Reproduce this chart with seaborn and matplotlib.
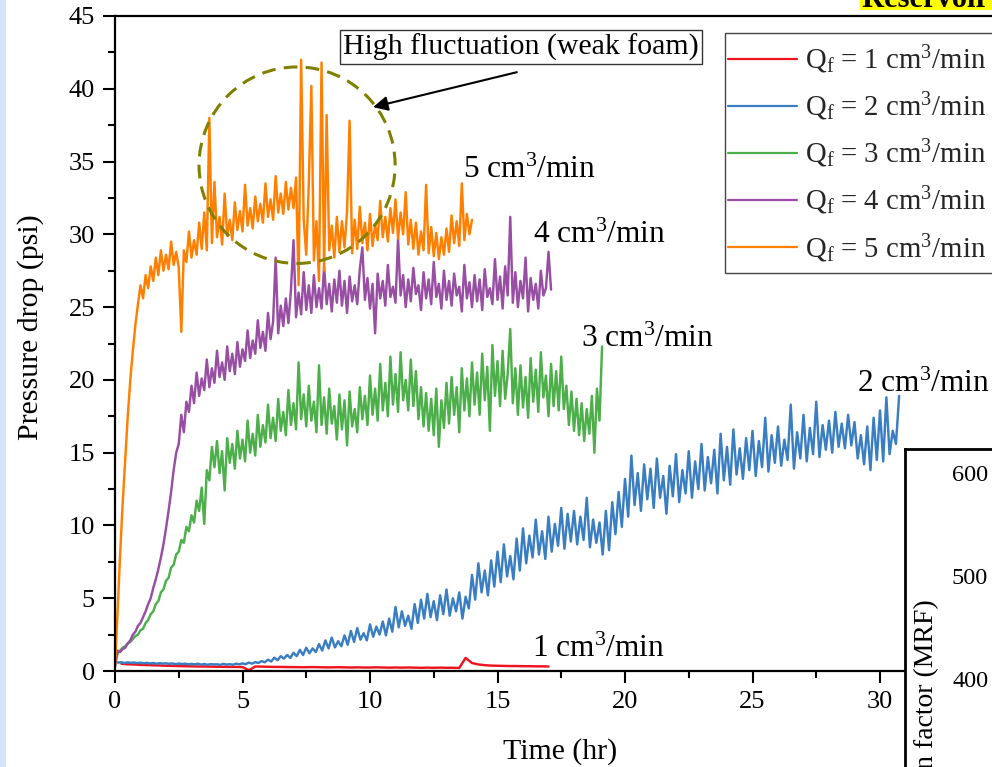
import numpy as np
import pandas as pd
import matplotlib
matplotlib.use("Agg")
import matplotlib.pyplot as plt
from matplotlib.patches import Ellipse, Rectangle
from matplotlib.lines import Line2D
from matplotlib.ticker import MultipleLocator
import seaborn as sns

# ---------------- data ----------------
labels = [r"Q$_\mathrm{f}$ = 1 cm$^3$/min", r"Q$_\mathrm{f}$ = 2 cm$^3$/min",
          r"Q$_\mathrm{f}$ = 3 cm$^3$/min", r"Q$_\mathrm{f}$ = 4 cm$^3$/min",
          r"Q$_\mathrm{f}$ = 5 cm$^3$/min"]
colors = ["#F0141E", "#3A7EC2", "#4CAF4A", "#984EA3", "#FF7F00"]
curve_labels = [r"1 cm$^3$/min", r"2 cm$^3$/min", r"3 cm$^3$/min",
                r"4 cm$^3$/min", r"5 cm$^3$/min"]

# Q = 1 cm3/min (t = 0.25 ... 17.0 hr)
red_t_range = (0.25, 17.0)
red_pd = [0.50, 0.46, 0.45, 0.42, 0.41, 0.39, 0.38, 0.36, 0.35, 0.34,
          0.33, 0.32, 0.31, 0.31, 0.30, 0.29, 0.29, 0.28, 0.28, 0.27,
          0.05,
          0.31, 0.30, 0.29, 0.28, 0.28, 0.27, 0.27, 0.26, 0.26, 0.27,
          0.26, 0.25, 0.25, 0.26, 0.25, 0.24, 0.25, 0.24, 0.24, 0.25,
          0.24, 0.23, 0.24, 0.23, 0.24, 0.23, 0.22, 0.23, 0.22, 0.23,
          0.22, 0.22, 0.21,
          0.90,
          0.55, 0.45, 0.40, 0.37, 0.36, 0.35, 0.34, 0.34, 0.33, 0.33,
          0.32, 0.32, 0.31]

# Q = 2 cm3/min (t = 0 ... 30.75 hr)
blue_t_range = (0.0, 30.75)
blue_pd = [
    0.62, 0.58, 0.60, 0.55, 0.59, 0.56, 0.58, 0.54,
    0.57, 0.53, 0.56, 0.52, 0.55, 0.50, 0.54, 0.51,
    0.53, 0.49, 0.52, 0.47, 0.51, 0.48, 0.50, 0.46,
    0.49, 0.45, 0.50, 0.44, 0.48, 0.43, 0.47, 0.45,
    0.46, 0.42, 0.49, 0.44, 0.47, 0.43, 0.50, 0.46,
    0.52, 0.47, 0.58, 0.50, 0.61, 0.55, 0.68, 0.60,
    0.78, 0.65, 0.92, 0.74, 1.02, 0.85, 1.10, 0.90,
    1.25, 1.02, 1.45, 1.10, 1.60, 1.22, 1.55, 1.30,
    1.85, 1.40, 2.10, 1.55, 2.30, 1.62, 2.05, 1.70,
    2.45, 1.80, 2.75, 2.00, 2.95, 2.15, 2.60, 2.10,
    3.20, 2.35, 3.05, 2.50, 3.40, 2.45, 3.60, 2.70,
    4.40, 3.00, 4.10, 3.10, 3.80, 2.90, 4.60, 3.30,
    4.90, 3.60, 5.30, 3.70, 4.80, 3.50, 5.20, 3.90,
    5.60, 3.80, 5.00, 4.10, 5.40, 3.60, 5.10, 4.30,
    6.60, 4.90, 7.40, 5.40, 6.90, 5.20, 7.60, 5.80,
    8.20, 6.10, 8.70, 6.50, 7.90, 6.30, 9.10, 6.90,
    9.80, 7.40, 9.30, 7.80, 10.40, 8.00, 9.60, 7.70,
    10.60, 8.20, 10.10, 8.60, 11.20, 8.40, 10.80, 8.90,
    11.00, 8.70, 10.60, 9.00, 11.90, 8.50, 10.40, 8.80,
    10.20, 8.00, 11.00, 8.30, 11.60, 9.40, 12.30, 9.90,
    13.20, 10.60, 14.80, 11.40, 13.60, 11.00, 14.20, 11.80,
    13.90, 11.20, 14.60, 11.90, 13.40, 10.80, 14.10, 12.00,
    14.90, 11.60, 13.80, 12.20, 15.10, 11.90, 14.40, 12.50,
    15.60, 12.40, 14.70, 12.90, 15.20, 12.20, 16.30, 13.10,
    15.40, 12.80, 16.60, 13.50, 15.30, 13.20, 16.00, 13.80,
    16.50, 13.40, 15.80, 14.00, 17.40, 13.70, 16.20, 14.30,
    16.80, 14.10, 15.90, 14.50, 18.30, 13.90, 16.40, 14.60,
    17.60, 14.40, 16.70, 14.90, 18.50, 14.70, 16.90, 15.20,
    17.20, 15.00, 17.80, 15.40, 17.00, 15.30, 17.60, 15.50,
    17.10, 14.60, 16.20, 14.20, 16.80, 13.80, 17.40, 14.50,
    17.90, 14.40, 18.80, 14.90, 16.50, 15.60, 18.90]

# Q = 3 cm3/min (t = 0 ... 19.1 hr)
green_t_range = (0.0, 19.1)
green_pd = [
    0.5, 1.2, 1.4, 1.6, 1.7, 1.9, 2.0, 2.2, 2.4, 2.5,
    2.8, 2.9, 3.3, 3.5, 3.9, 4.1, 4.6, 4.8, 5.4, 5.6,
    6.2, 6.4, 7.1, 7.3, 8.0, 8.2, 9.0, 8.8, 9.9, 9.6,
    10.7, 10.2, 11.7, 11.0, 12.6, 10.1, 13.8, 13.1, 15.4, 14.0,
    15.8, 13.6, 15.1, 12.4, 16.0, 14.3, 15.6, 13.9, 16.5, 14.6,
    15.9, 14.4, 17.2, 15.0, 16.3, 14.8, 17.6, 15.4, 16.9, 15.7,
    18.3, 16.0, 17.4, 15.8, 18.7, 16.5, 17.8, 16.2, 19.3, 16.9,
    18.4, 16.6, 21.2, 17.3, 19.0, 16.8, 19.6, 17.2, 18.5, 16.4,
    21.0, 16.9, 18.8, 16.3, 19.4, 17.0, 18.2, 15.9, 19.0, 16.6,
    18.6, 15.5, 19.2, 16.8, 18.0, 16.4, 19.5, 17.3, 18.9, 16.9,
    20.3, 17.6, 19.4, 17.2, 21.1, 17.9, 19.8, 17.5, 21.6, 18.3,
    20.4, 17.8, 21.9, 18.6, 20.0, 17.9, 21.4, 18.2, 20.6, 17.3,
    19.5, 16.8, 19.1, 16.5, 18.7, 16.2, 19.4, 15.4, 18.6, 16.7,
    19.8, 17.0, 20.2, 17.6, 19.5, 16.4, 20.8, 17.9, 20.1, 17.5,
    21.2, 18.3, 20.5, 17.6, 21.8, 18.6, 20.9, 16.5, 22.4, 18.9,
    21.3, 18.2, 22.0, 18.7, 20.4, 23.5, 18.4, 20.8, 17.6, 21.0,
    18.1, 20.2, 17.4, 21.5, 18.5, 20.7, 17.8, 21.9, 18.8, 20.3,
    17.5, 21.1, 18.2, 20.6, 17.9, 21.6, 18.0, 19.6, 16.9, 19.2,
    16.5, 18.7, 16.2, 18.4, 15.8, 18.0, 16.3, 18.9, 15.0, 19.4,
    17.2, 22.3]

# Q = 4 cm3/min (t = 0 ... 17.1 hr)
purple_t_range = (0.0, 17.1)
purple_pd = [
    0.3, 1.4, 1.3, 1.5, 1.6, 1.9, 2.1, 2.5, 2.7, 3.1,
    3.3, 3.7, 4.1, 4.6, 5.0, 5.7, 6.3, 7.0, 7.8, 8.7,
    9.8, 11.0, 12.3, 13.8, 15.0, 15.6, 17.6, 16.4, 18.5, 17.8,
    19.6, 18.4, 20.5, 18.9, 20.1, 19.3, 21.4, 19.5, 20.8, 19.8,
    22.0, 20.2, 21.2, 20.0, 22.3, 20.6, 21.8, 20.4, 22.6, 20.9,
    22.1, 21.3, 23.4, 21.5, 22.7, 21.8, 24.1, 22.2, 23.3, 22.0,
    24.6, 22.8, 24.0, 28.4, 23.2, 25.1, 23.7, 25.6, 23.9, 26.2,
    29.6, 24.3, 26.0, 24.5, 27.4, 24.8, 26.5, 24.6, 27.2, 25.0,
    26.3, 24.9, 27.8, 25.2, 26.6, 24.7, 26.9, 25.3, 27.5, 25.1,
    26.8, 24.6, 27.1, 25.4, 26.5, 25.2, 27.6, 29.1, 25.5, 27.0,
    24.9, 26.6, 23.2, 27.3, 25.6, 26.8, 25.1, 27.9, 25.7, 26.4,
    25.3, 29.7, 25.8, 27.2, 25.0, 26.9, 25.4, 27.7, 25.9, 26.5,
    24.8, 27.4, 25.6, 26.9, 25.2, 28.1, 25.7, 26.6, 24.9, 27.5,
    25.5, 26.8, 25.1, 27.3, 25.8, 26.4, 24.7, 27.9, 25.6, 26.7,
    25.0, 27.2, 25.4, 26.9, 24.8, 27.6, 25.7, 26.3, 25.2, 28.3,
    25.5, 27.1, 24.9, 27.8, 25.8, 31.2, 25.3, 27.4, 25.0, 26.8,
    25.6, 28.4, 24.7, 27.0, 25.5, 26.6, 24.9, 27.5, 25.8, 26.3,
    28.8, 26.2]

# Q = 5 cm3/min (t = 0 ... 14.0 hr)
orange_t_range = (0.0, 14.0)
orange_pd = [
    0.3, 4.0, 8.0, 11.5, 14.5, 17.5, 20.0, 22.0, 23.8, 25.2,
    26.5, 25.6, 27.2, 26.3, 27.8, 26.8, 28.4, 27.2, 28.9, 27.5,
    28.6, 27.6, 29.5, 27.9, 28.8, 27.7, 23.3, 28.9, 28.1, 30.2,
    28.4, 29.6, 28.6, 30.8, 29.0, 31.5, 28.9, 38.0, 29.4, 33.6,
    29.8, 31.2, 29.3, 32.8, 29.9, 31.0, 29.6, 32.2, 30.3, 31.6,
    30.2, 33.4, 30.6, 31.8, 30.4, 32.6, 30.9, 32.1, 30.8, 33.5,
    31.2, 32.4, 31.0, 34.0, 31.5, 32.8, 31.4, 33.6, 31.7, 33.2,
    31.8, 33.9, 26.5, 42.0, 31.0, 28.6, 33.5, 40.2, 28.2, 30.9,
    26.8, 41.8, 27.5, 38.2, 28.9, 30.6, 28.4, 31.2, 28.8, 30.9,
    29.1, 31.6, 37.8, 28.7, 31.0, 29.0, 31.9, 29.4, 30.8, 28.9,
    31.4, 29.2, 30.7, 29.6, 32.3, 29.8, 31.2, 29.5, 31.8, 30.1,
    32.4, 29.7, 31.5, 30.0, 32.9, 29.3, 31.0, 29.0, 30.8, 28.6,
    30.2, 28.9, 33.4, 28.7, 30.5, 28.5, 30.1, 28.3, 29.8, 28.6,
    30.4, 28.8, 31.3, 29.4, 30.9, 29.2, 33.5, 29.6, 31.4, 30.0,
    31.0]

series_values = [red_pd, blue_pd, green_pd, purple_pd, orange_pd]
series_ranges = [red_t_range, blue_t_range, green_t_range, purple_t_range, orange_t_range]

x_ticks = [0, 5, 10, 15, 20, 25, 30, 35]
y_ticks = [0, 5, 10, 15, 20, 25, 30, 35, 40, 45]
mrf_ticks = [200, 300, 400, 500, 600]

# ---------------- build long table ----------------
frames = []
for lab, vals, (t0, t1) in zip(labels, series_values, series_ranges):
    frames.append(pd.DataFrame({"Time": np.linspace(t0, t1, len(vals)),
                                "dP": vals, "series": lab}))
df = pd.concat(frames, ignore_index=True)

# ---------------- style ----------------
sns.set_theme(style="ticks")
plt.rcParams["font.family"] = ["Liberation Serif", "DejaVu Serif"]
plt.rcParams["mathtext.fontset"] = "custom"
plt.rcParams["mathtext.rm"] = "Liberation Serif"
plt.rcParams["mathtext.it"] = "Liberation Serif:italic"
plt.rcParams["mathtext.bf"] = "Liberation Serif:bold"

W, H = 992, 767
fig = plt.figure(figsize=(W / 100, H / 100), dpi=100, facecolor="white")

def fx(px):
    return px / W

def fy(py):
    return (H - py) / H

# main axes: left 115 px, top 16 px, bottom 671 px, right beyond the canvas
ax_left, ax_right, ax_top, ax_bot = 115, 1100, 16, 671
ax = fig.add_axes([fx(ax_left), fy(ax_bot), (ax_right - ax_left) / W, (ax_bot - ax_top) / H])
ax.set_facecolor("white")

sns.lineplot(data=df, x="Time", y="dP", hue="series", hue_order=labels,
             palette=colors, estimator=None, sort=False, lw=1.75,
             legend=False, ax=ax)

ax.set_xlim(0, (ax_right - ax_left) / 25.5)
ax.set_ylim(0, 45)
ax.set_xticks(x_ticks)
ax.set_yticks(y_ticks)
ax.xaxis.set_minor_locator(MultipleLocator(2.5))
ax.yaxis.set_minor_locator(MultipleLocator(2.5))
ax.tick_params(axis="both", which="major", direction="out", length=8.5, width=1.5,
               labelsize=19, color="black", labelcolor="black", pad=6)
ax.tick_params(axis="both", which="minor", direction="out", length=5, width=1.5, color="black")
ax.tick_params(axis="x", top=False, which="both")
for s in ["left", "bottom", "top", "right"]:
    ax.spines[s].set_visible(True)
    ax.spines[s].set_linewidth(1.6)
    ax.spines[s].set_color("black")

ax.set_xlabel("Time (hr)", fontsize=21.5, color="black")
ax.set_ylabel("Pressure drop (psi)", fontsize=21.5, color="black")
ax.xaxis.set_label_coords((560 - ax_left) / (ax_right - ax_left), (ax_bot - 738) / (ax_bot - ax_top))
ax.yaxis.set_label_coords((44 - ax_left) / (ax_right - ax_left), (ax_bot - 327) / (ax_bot - ax_top))

# curve labels
label_pos = [(16.35, 1.5), (29.1, 19.7), (18.27, 22.8), (16.4, 29.9), (13.65, 34.4)]
for txt, (xt, yt) in zip(curve_labels, label_pos):
    ax.text(xt, yt, txt, fontsize=22.6, ha="left", va="center", color="black", zorder=6)

# dashed circle around the fluctuating zone
ell = Ellipse((7.14, 34.75), width=7.69, height=13.5, fill=False,
              edgecolor="#808000", lw=2.2, linestyle=(0, (4.5, 2.7)), zorder=5)
ax.add_patch(ell)

# annotation box + arrow
ax.text(15.92, 42.86, "High fluctuation (weak foam)", fontsize=21.5, ha="center",
        va="center", color="black", zorder=7,
        bbox=dict(boxstyle="square,pad=0.12", fc="white", ec="#333333", lw=1.0))
ax.annotate("", xy=(10.12, 38.74), xytext=(15.76, 41.14),
            arrowprops=dict(arrowstyle="-|>", color="black", lw=1.5,
                            mutation_scale=22, shrinkA=0, shrinkB=0), zorder=7)

# legend (frame drawn separately so that rows and frame can both match)
legend_frame = Rectangle((fx(725), fy(273)), fx(300), (273 - 33) / H,
                         transform=fig.transFigure, facecolor="white",
                         edgecolor="#444444", lw=1.0, zorder=7.5)
ax.add_artist(legend_frame)
handles = [Line2D([0], [0], color=c, lw=1.6) for c in colors]
leg = ax.legend(handles, labels, loc="upper left",
                bbox_to_anchor=(fx(725), fy(40)), bbox_transform=fig.transFigure,
                fontsize=20.7, frameon=False, borderpad=0.12, handlelength=2.4,
                handletextpad=0.25, labelspacing=0.51, borderaxespad=0)
leg.set_zorder(8)

# inset frame (bottom right, mostly outside the canvas)
ax_frame = fig.add_axes([fx(905), fy(900), 0.3, (900 - 449) / H], zorder=10)
ax_frame.set_facecolor("white")
ax_frame.set_xticks([])
ax_frame.set_yticks([])
for s in ["left", "top"]:
    ax_frame.spines[s].set_linewidth(2.0)
    ax_frame.spines[s].set_color("black")
for s in ["right", "bottom"]:
    ax_frame.spines[s].set_visible(False)

ax_mrf = fig.add_axes([fx(1000), fy(900), 0.2, (900 - 449) / H], zorder=11)
ax_mrf.patch.set_alpha(0)
ax_mrf.set_ylim(600 - (900 - 473) / 1.03, 600 + (473 - 449) / 1.03)
ax_mrf.set_yticks(mrf_ticks)
ax_mrf.set_xticks([])
ax_mrf.tick_params(axis="y", length=0, labelsize=17.5, pad=8.5, labelcolor="black")
for s in ax_mrf.spines.values():
    s.set_visible(False)
ax_mrf.set_ylabel("Mobility reduction factor (MRF)", fontsize=20, color="black")
ax_mrf.yaxis.set_label_coords((939 - 1000) / (0.2 * W), (900 - 782) / (900 - 449))

# cropped decoration: highlighted heading at the top right and left strip
fig.patches.append(Rectangle((fx(860), fy(10)), fx(140), 10 / H, transform=fig.transFigure,
                             facecolor="#FFFF00", edgecolor="none", zorder=0))
fig.text(fx(862), fy(7), "Reservoir condition", fontsize=22, fontweight="bold",
         va="baseline", ha="left", color="black")
fig.patches.append(Rectangle((0, 0), fx(6), 1, transform=fig.transFigure,
                             facecolor="#D4E5F8", edgecolor="none", zorder=0))

fig.savefig("out.png", dpi=100, facecolor="white")
